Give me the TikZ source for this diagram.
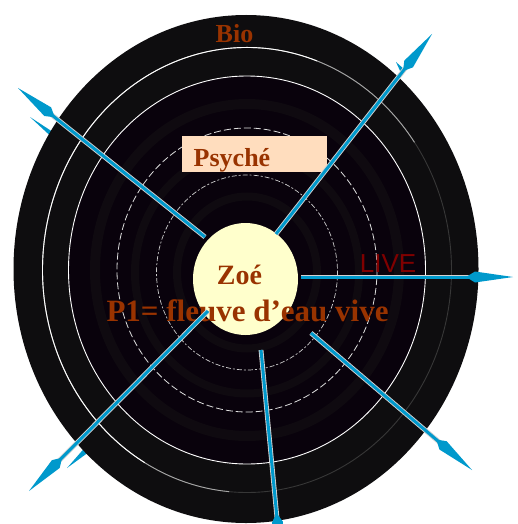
\documentclass[tikz,border=0pt]{standalone}
\usepackage{fontspec}
\setmainfont{Liberation Serif}
\newfontfamily\livefont{Liberation Sans}
\usetikzlibrary{arrows.meta,shapes.geometric,calc}
\definecolor{discout}{RGB}{14,13,15}
\definecolor{discin}{RGB}{9,2,12}
\definecolor{band}{RGB}{15,10,16}
\definecolor{zoeyellow}{RGB}{255,255,204}
\definecolor{brownt}{RGB}{153,51,0}
\definecolor{livered}{RGB}{128,0,0}
\definecolor{arrowblue}{RGB}{0,153,204}
\definecolor{peach}{RGB}{255,221,190}
\definecolor{ringdark}{RGB}{55,55,55}
\begin{document}
\begin{tikzpicture}[x=1pt,y=-1pt,
  ray/.style={draw=arrowblue, line width=3pt,
    -{Kite[length=47pt,width=11pt,inset=9pt]},
    preaction={draw=gray!35, line width=4.8pt, -, shorten >=40pt}},
  sliver/.style={fill=arrowblue},
  ringline/.style={line width=0.9pt},
  titletext/.style={text=brownt, inner sep=0pt, anchor=base, font=\bfseries},
]
\useasboundingbox (0,0) rectangle (518,524);
\coordinate (C) at (247,270);
\coordinate (D) at (246,269);
\coordinate (C2) at (247,272.5);

% slivers behind the disc
\fill[sliver] (30,117) -- (62,138) -- (58,143) -- cycle;
\fill[sliver] (67,468) -- (88,444) -- (93,449) -- cycle;
\fill[sliver] (396,62) -- (405,70) -- (401,73) -- cycle;

% disc
\fill[discout] (D) ellipse [x radius=232.5pt, y radius=254pt];
\fill[discin] (C) ellipse [x radius=178.5pt, y radius=194pt];
\draw[band, line width=10pt] (C) ellipse [x radius=152pt, y radius=166pt];
\draw[band, line width=8pt] (C2) ellipse [x radius=112pt, y radius=121pt];
\draw[band, line width=8pt] (C2) ellipse [x radius=70pt, y radius=76pt];

% ring 1 (fading)
\draw[ringdark, line width=0.9pt] (C) ellipse [x radius=204.5pt, y radius=222.5pt];
\draw[gray!70, line width=0.9pt] ($(C)+(35:204.5pt and 222.5pt)$)
  arc[start angle=35, end angle=265, x radius=204.5pt, y radius=222.5pt];
\draw[white, line width=0.9pt] ($(C)+(70:204.5pt and 222.5pt)$)
  arc[start angle=70, end angle=240, x radius=204.5pt, y radius=222.5pt];
% ring 2
\draw[white, ringline] (C) ellipse [x radius=178.5pt, y radius=194pt];
% dashed ring
\draw[gray!25, line width=0.8pt, dash pattern=on 7pt off 3pt] (C) ellipse [x radius=130pt, y radius=142pt];
% dotted ring
\draw[gray!40, line width=0.7pt, dash pattern=on 2pt off 2pt on 5pt off 2pt] (C2) ellipse [x radius=90.5pt, y radius=97.5pt];

% centre
\node[ellipse, fill=zoeyellow, minimum width=105pt, minimum height=112pt, inner sep=0pt] (zoe) at (245.5,279) {};

% Psyche box
\node[fill=peach, minimum width=145pt, minimum height=36pt, inner sep=0pt] (psybox) at (254.5,154) {};

% texts
\node[titletext, font=\bfseries\fontsize{26}{30}\selectfont] (bio) at (234.5,43) {Bio};
\node[titletext, font=\bfseries\fontsize{26}{30}\selectfont] (psy) at (232,166) {Psyché};
\node[titletext, font=\bfseries\fontsize{28}{32}\selectfont] (zoet) at (239.5,284) {Zoé};
\node[titletext, font=\bfseries\fontsize{31}{35}\selectfont] (p1) at (247.5,321) {P1= fleuve d’eau vive};
\node[text=livered, inner sep=0pt, anchor=base, font=\livefont\fontsize{26}{30}\selectfont] (live) at (388,272) {LIVE};

% arrows
\coordinate (ulS) at (205,237); \coordinate (ulE) at (18,88);
\coordinate (urS) at (276,234); \coordinate (urE) at (432,34);
\coordinate (rS) at (301,277);  \coordinate (rE) at (513,277);
\coordinate (lrS) at (311,333); \coordinate (lrE) at (472,470);
\coordinate (bS) at (261,350);  \coordinate (bE) at (281,560);
\coordinate (llS) at (208,311); \coordinate (llE) at (29,491);
\draw[ray] (ulS) -- (ulE);
\draw[ray] (urS) -- (urE);
\draw[ray] (rS) -- (rE);
\draw[ray] (lrS) -- (lrE);
\draw[ray] (bS) -- (bE);
\draw[ray] (llS) -- (llE);
\end{tikzpicture}
\end{document}
